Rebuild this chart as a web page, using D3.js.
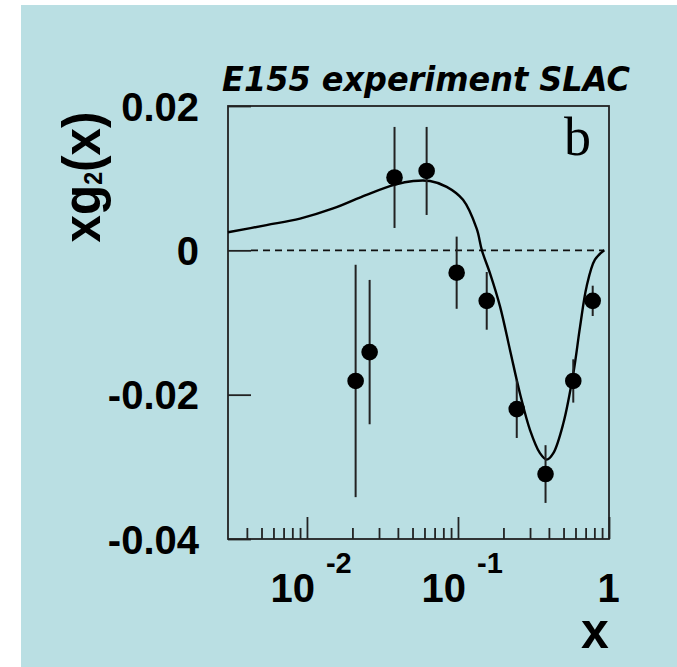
<!DOCTYPE html>
<html><head><meta charset="utf-8">
<script src="https://cdn.jsdelivr.net/npm/d3@7"></script>
<style>html,body{margin:0;padding:0;background:#fff;} svg{display:block}</style>
</head><body>
<svg id="c" width="677" height="667"></svg>
<script>
// ---- data ----
const pointX   = [0.021, 0.026, 0.038, 0.062, 0.098, 0.155, 0.245, 0.38, 0.58, 0.78];
const pointY   = [-0.0181, -0.0141, 0.0101, 0.0110, -0.0031, -0.0070, -0.0220, -0.0310, -0.0181, -0.0070];
const pointErr = [0.0161, 0.0100, 0.0070, 0.0061, 0.0050, 0.0040, 0.0040, 0.0040, 0.0030, 0.0021];

const curveX = [0.003, 0.0054, 0.009, 0.0149, 0.0248, 0.0383, 0.0506, 0.0653, 0.0842, 0.108, 0.133, 0.144,
                0.163, 0.190, 0.221, 0.257, 0.300, 0.349, 0.387, 0.428, 0.498, 0.581, 0.643, 0.711, 0.807, 0.93];
const curveY = [0.0025, 0.0035, 0.0044, 0.0058, 0.0077, 0.0091, 0.0096, 0.0096, 0.0088, 0.0070, 0.0030, 0.0,
                -0.0032, -0.0078, -0.0138, -0.0198, -0.0249, -0.0281, -0.0290, -0.0281, -0.0240, -0.0170, -0.0106, -0.0050, -0.0013, 0.0];

const yTicks = [0.02, 0, -0.02, -0.04];
const yTickLabels = ["0.02", "0", "-0.02", "-0.04"];
const xMajor = [0.01, 0.1, 1];
const xMajorBase = ["10", "10", "1"];
const xMajorExp = ["-2", "-1", ""];
const xMinor = [0.004,0.005,0.006,0.007,0.008,0.009,0.02,0.03,0.04,0.05,0.06,0.07,0.08,0.09,0.2,0.3,0.4,0.5,0.6,0.7,0.8,0.9];
const xDomain = [0.003, 1];
const yDomain = [-0.04, 0.02];
const titleText = "E155 experiment SLAC";
const panelLabel = "b";

// ---- drawing ----
const svg = d3.select("#c");
const L = 228, R = 609, T = 106, B = 539;
const sans = "'Liberation Sans', Arial, Helvetica, sans-serif";

svg.append("rect").attr("x", 21).attr("y", 5).attr("width", 656).attr("height", 662).attr("fill", "#badfe3");

const x = d3.scaleLog().domain(xDomain).range([L, R]);
const y = d3.scaleLinear().domain(yDomain).range([B, T]);

// axes (inner ticks)
const gMajor = svg.append("g").attr("transform", `translate(0,${B})`)
  .call(d3.axisBottom(x).tickValues(xMajor).tickSize(-22).tickFormat(""));
const gMinor = svg.append("g").attr("transform", `translate(0,${B})`)
  .call(d3.axisBottom(x).tickValues(xMinor).tickSize(-11).tickFormat(""));
const gY = svg.append("g").attr("transform", `translate(${L},0)`)
  .call(d3.axisLeft(y).tickValues(yTicks).tickSize(-23).tickFormat(""));
[gMajor, gMinor, gY].forEach(g => {
  g.select(".domain").remove();
  g.selectAll(".tick line").attr("stroke", "#222").attr("stroke-width", 1.8);
});

// frame
svg.append("rect").attr("x", L).attr("y", T).attr("width", R - L).attr("height", B - T)
  .attr("fill", "none").attr("stroke", "#222").attr("stroke-width", 1.8);

// zero dashed line
svg.append("line").attr("x1", x(0.003) + 23).attr("x2", x(0.93)).attr("y1", y(0)).attr("y2", y(0))
  .attr("stroke", "#111").attr("stroke-width", 1.6).attr("stroke-dasharray", "7,5");

// curve
const cdata = curveX.map((v, i) => [v, curveY[i]]);
svg.append("path").datum(cdata)
  .attr("d", d3.line().x(d => x(d[0])).y(d => y(d[1])).curve(d3.curveCatmullRom.alpha(0.5)))
  .attr("fill", "none").attr("stroke", "#000").attr("stroke-width", 2.4);

// error bars
const pts = pointX.map((v, i) => ({x: v, y: pointY[i], e: pointErr[i]}));
svg.append("g").selectAll("line").data(pts).join("line")
  .attr("x1", d => x(d.x)).attr("x2", d => x(d.x))
  .attr("y1", d => y(d.y + d.e)).attr("y2", d => y(d.y - d.e))
  .attr("stroke", "#222").attr("stroke-width", 2);
svg.append("g").selectAll("circle").data(pts).join("circle")
  .attr("cx", d => x(d.x)).attr("cy", d => y(d.y)).attr("r", 8.3).attr("fill", "#000");

// y tick labels
svg.append("g").selectAll("text").data(yTicks).join("text")
  .attr("x", 199).attr("y", d => y(d) + 14.5)
  .attr("text-anchor", "end").attr("font-family", sans).attr("font-weight", "bold")
  .attr("font-size", 40).attr("fill", "#000")
  .text((d, i) => yTickLabels[i]);

// x tick labels
xMajor.forEach((v, i) => {
  if (xMajorExp[i]) {
    const t = svg.append("text").attr("x", x(v) - 36.5).attr("y", 602)
      .attr("font-family", sans).attr("font-weight", "bold").attr("font-size", 40).attr("fill", "#000");
    t.append("tspan").text(xMajorBase[i]);
    t.append("tspan").attr("dx", 11).attr("dy", -29).attr("font-size", 29).text(xMajorExp[i]);
  } else {
    svg.append("text").attr("x", x(v) - 0.5).attr("y", 602).attr("text-anchor", "middle")
      .attr("font-family", sans).attr("font-weight", "bold").attr("font-size", 40).attr("fill", "#000")
      .text(xMajorBase[i]);
  }
});

// x axis title
svg.append("text").attr("x", 595).attr("y", 648).attr("text-anchor", "middle")
  .attr("font-family", sans).attr("font-weight", "bold").attr("font-size", 50).attr("fill", "#000").text("x");

// y axis title (rotated)
const gyl = svg.append("g");
const yl = gyl.append("text").attr("x", 0).attr("y", 0).attr("text-anchor", "middle")
  .attr("font-family", sans).attr("font-weight", "bold").attr("font-size", 53).attr("fill", "#000");
yl.append("tspan").text("xg");
yl.append("tspan").attr("font-size", 25).attr("dy", 2).text("2");
yl.append("tspan").attr("dy", -2).text("(x)");
{
  const w = yl.node().getBBox().width;
  const s = 131 / w;
  gyl.attr("transform", `translate(100,177) rotate(-90) scale(${s},1)`);
}

// title
const gt = svg.append("g");
const tt = gt.append("text").attr("x", 0).attr("y", 0).attr("text-anchor", "middle")
  .attr("font-family", "'DejaVu Sans', Verdana, sans-serif").attr("font-weight", "bold")
  .attr("font-style", "italic").attr("font-size", 33).attr("fill", "#000").text(titleText);
{
  const w = tt.node().getBBox().width;
  const s = 408 / w;
  gt.attr("transform", `translate(426,91) scale(${s},1)`);
}

// panel label
svg.append("text").attr("x", 564).attr("y", 155)
  .attr("font-family", "'Liberation Serif', 'Times New Roman', serif").attr("font-size", 54)
  .attr("fill", "#000").text(panelLabel);
</script>
</body></html>
